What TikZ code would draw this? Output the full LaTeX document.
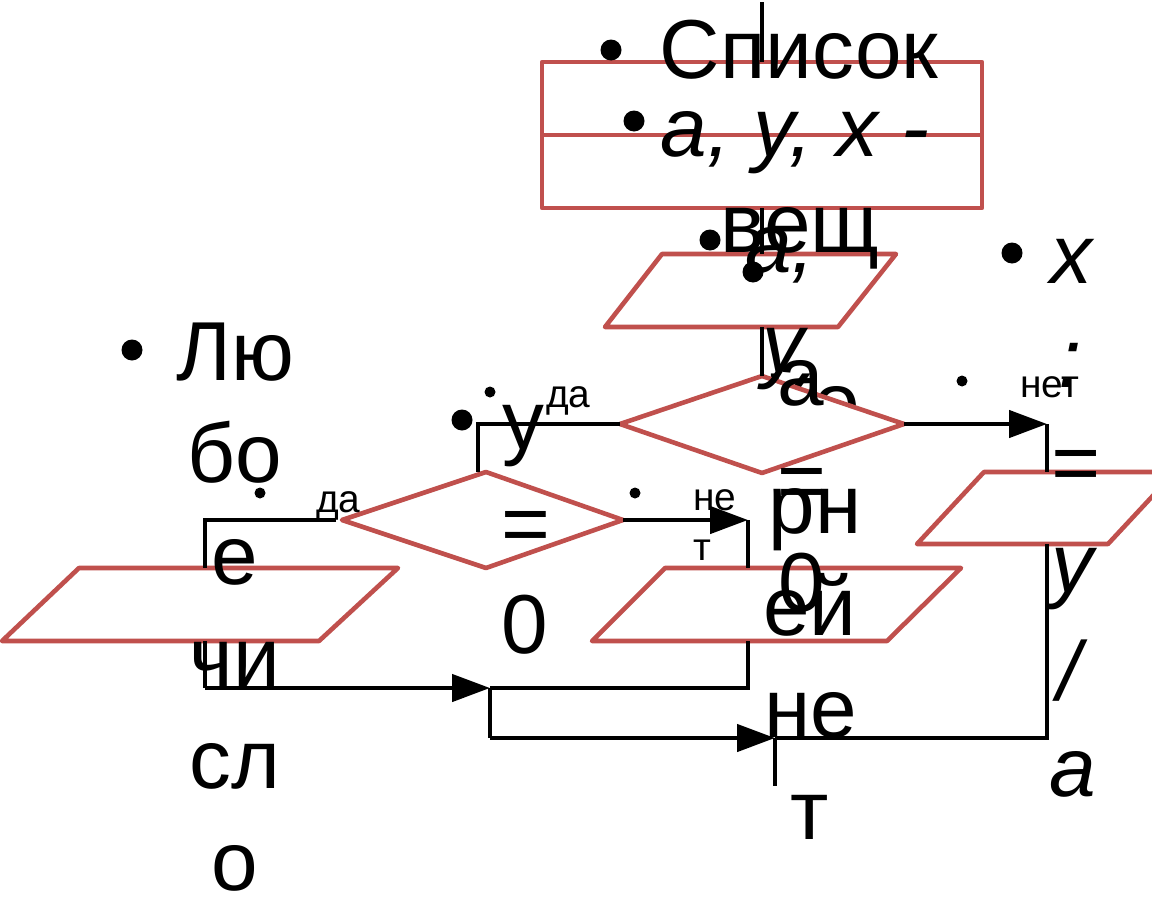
\documentclass[tikz,border=0pt]{standalone}
\usepackage{fontspec}
\setmainfont{Liberation Sans}
\usetikzlibrary{arrows.meta}
\definecolor{accentred}{RGB}{192,80,77}
\newcommand\BigT{\fontsize{84}{100}\selectfont}
\newcommand\SmallT{\fontsize{39}{46}\selectfont}
\tikzset{
  redshape/.style={draw=accentred, line width=4.6bp, fill=white, line join=round},
  conn/.style={draw=black, line width=4.6bp},
  arr/.style={conn, -{Triangle[length=38bp,width=27bp]}},
  bigtxt/.style={inner sep=0pt, anchor=base, font=\BigT},
  bigit/.style={inner sep=0pt, anchor=base, font=\BigT\itshape},
  smalltxt/.style={inner sep=0pt, anchor=base west, font=\SmallT},
  bul/.style={circle, fill=black, inner sep=0pt, minimum size=21bp},
  sbul/.style={circle, fill=black, inner sep=0pt, minimum size=11bp}
}
\begin{document}
\begin{tikzpicture}[x=1bp,y=-1bp]
\useasboundingbox (0,0) rectangle (1152,898);
\clip (0,0) rectangle (1152,898);
% ---- shape vertices ----
\coordinate (R1a) at (542,62);  \coordinate (R1b) at (982,135);
\coordinate (R2a) at (542,135); \coordinate (R2b) at (982,208);
% shapes (white filled)
\draw[redshape] (R1a) rectangle (R1b);
\draw[redshape] (R2a) rectangle (R2b);
\draw[redshape] (662,254) -- (896,254) -- (838,327) -- (605,327) -- cycle;
\draw[redshape] (486,472) -- (623,520) -- (486,568) -- (342,520) -- cycle;
\draw[redshape] (984,472) -- (1175,472) -- (1108,544) -- (917,544) -- cycle;
\draw[redshape] (79,568) -- (398,568) -- (319,641) -- (2,641) -- cycle;
\draw[redshape] (665,568) -- (961,568) -- (887,641) -- (592,641) -- cycle;
% text lying under diamond 1
\node[bigtxt] (k1) at (812,431) {Ко};
\node[bigtxt] (k2) at (815,533) {рн};
\node[bigtxt] (k3) at (810,635) {ей};
\node[bigtxt] (k4) at (811,737) {не};
\node[bigtxt] (k5) at (810,839) {т};
% diamond 1
\draw[redshape] (762,376) -- (904,424) -- (762,473) -- (620,424) -- cycle;
% ---- named connector points ----
\coordinate (top0) at (762,2);
\coordinate (rTop) at (762,62);
\coordinate (rBot) at (762,208);
\coordinate (pTop) at (762,254);
\coordinate (pBot) at (762,327);
\coordinate (d1Top) at (762,376);
\coordinate (d1L) at (620,424);
\coordinate (d1R) at (904,424);
\coordinate (cYes1) at (478,424);
\coordinate (d2TopL) at (478,472);
\coordinate (cNo1) at (1047,424);
\coordinate (p3Top) at (1047,472);
\coordinate (p3Bot) at (1047,544);
\coordinate (cP3) at (1047,738);
\coordinate (d2L) at (336,520);
\coordinate (cYes2) at (205,520);
\coordinate (p4Top) at (205,568);
\coordinate (p4Bot) at (205,641);
\coordinate (cP4) at (205,688);
\coordinate (m1) at (490,688);
\coordinate (m1b) at (490,738);
\coordinate (d2R) at (623,520);
\coordinate (cNo2) at (748,520);
\coordinate (p5Top) at (748,568);
\coordinate (p5Bot) at (748,641);
\coordinate (cP5) at (748,688);
\coordinate (m2) at (775,738);
\coordinate (endP) at (775,786);
% ---- connectors ----
\draw[conn] (top0) -- (rTop);
\draw[conn] (rBot) -- (pTop);
\draw[conn] (pBot) -- (d1Top);
\draw[conn] (d1L) -- (cYes1) -- (d2TopL);
\draw[arr] (d1R) -- (cNo1);
\draw[conn] (cNo1) -- (p3Top);
\draw[conn] (p3Bot) -- (cP3) -- (m2);
\draw[conn] (d2L) -- (cYes2) -- (p4Top);
\draw[arr] (d2R) -- (cNo2);
\draw[conn] (cNo2) -- (p5Top);
\draw[conn] (p4Bot) -- (cP4);
\draw[arr] (cP4) -- (m1);
\draw[conn] (p5Bot) -- (cP5) -- (m1);
\draw[conn] (m1) -- (m1b);
\draw[arr] (m1b) -- (m2);
\draw[conn] (m2) -- (endP);
% ---- top texts ----
\node[bul] (b1) at (611,50) {};
\node[bigtxt] (tSpisok) at (799,78) {Список};
\node[bul] (b2) at (634,121) {};
\node[bigit] (tAYX) at (795,156) {a, y, x -};
\node[bigtxt] (tVesch) at (800,252) {вещ};
% input text
\node[bul] (b3) at (710,240) {};
\node[bul] (b4) at (753,272) {};
\node[bigit] (tA1) at (780,272) {a,};
\node[bigit] (tY1) at (783,372) {y};
% diamond 1 text
\node[bigtxt] (tA2) at (801,405) {a};
\node[bigtxt] (tEq2) at (802,509) {=};
\node[bigtxt] (tZ2) at (802,611) {0};
% left column
\node[bul] (b5) at (132,350) {};
\node[bigtxt] (l1) at (235,380) {Лю};
\node[bigtxt] (l2) at (235,482) {бо};
\node[bigtxt] (l3) at (235,584) {е};
\node[bigtxt] (l4) at (235,686) {чи};
\node[bigtxt] (l5) at (235,788) {сл};
\node[bigtxt] (l6) at (235,890) {о};
% diamond 2 text
\node[bul] (b6) at (462,420) {};
\node[bigtxt] (u1) at (523,449) {y};
\node[bigtxt] (u2) at (526,552) {=};
\node[bigtxt] (u3) at (525,653) {0};
% right column
\node[bul] (b7) at (1012,253) {};
\node[bigit] (r1) at (1071,283) {x};
\node[bigit] (r2) at (1070,387) {:};
\node[bigit] (r3) at (1075,491) {=};
\node[bigit] (r4) at (1072,592) {y};
\node[bigit] (r5) at (1069,700) {/};
\node[bigit] (r6) at (1073,796) {a};
% small labels
\node[sbul] (s1) at (490,392) {};
\node[smalltxt] (yes1) at (546,407) {да};
\node[sbul] (s2) at (260,493) {};
\node[smalltxt] (yes2) at (316,512) {да};
\node[sbul] (s3) at (635,493) {};
\node[smalltxt] (no2a) at (693,510) {не};
\node[smalltxt] (no2b) at (693,560) {т};
\node[sbul] (s4) at (962,381) {};
\node[smalltxt] (no1) at (1020,397) {нет};
\end{tikzpicture}
\end{document}
